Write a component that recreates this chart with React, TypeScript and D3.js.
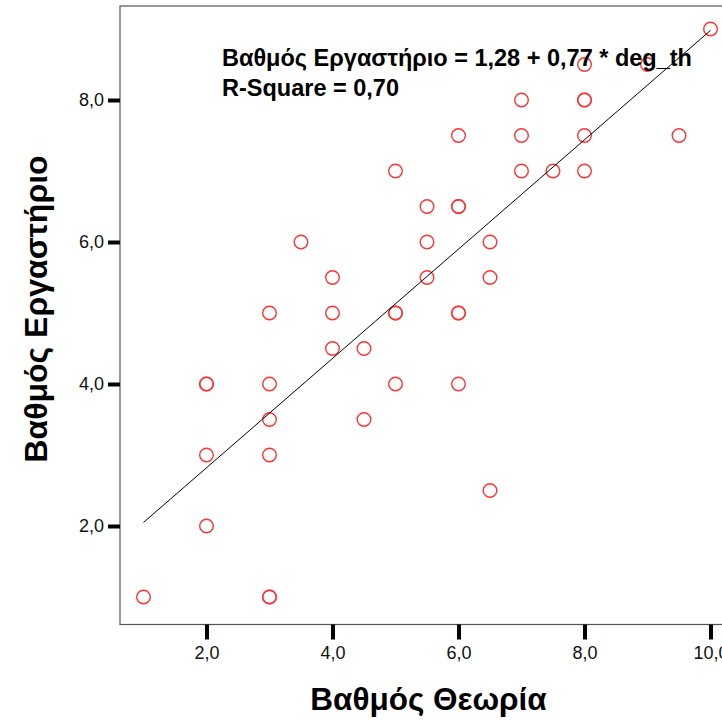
import React, { useRef, useEffect } from 'react';
import * as d3 from 'd3';

// Scatter points: theory grade (x) and lab grade (y); repeats are drawn on top of each other
const theoryScores = [1, 2, 2, 2, 2, 3, 3, 3, 3, 3, 3, 3.5, 4, 4, 4, 4.5, 4.5, 5, 5, 5, 5, 5.5, 5.5, 5.5, 6, 6, 6, 6, 6, 6, 6.5, 6.5, 6.5, 7, 7, 7, 7.5, 8, 8, 8, 8, 8, 9, 9.5, 10];
const labScores = [1, 2, 3, 4, 4, 1, 1, 3, 3.5, 4, 5, 6, 4.5, 5, 5.5, 3.5, 4.5, 4, 5, 5, 7, 5.5, 6, 6.5, 4, 5, 5, 6.5, 6.5, 7.5, 2.5, 5.5, 6, 7, 7.5, 8, 7, 7, 7.5, 8, 8, 8.5, 8.5, 7.5, 9];

const xTicks = [2, 4, 6, 8, 10];
const yTicks = [2, 4, 6, 8];
const fitIntercept = 1.28;
const fitSlope = 0.77;
const fitRange = [1, 10];

const W = 722;
const H = 721;
const FONT = 'Liberation Sans, Arial, sans-serif';

const ScatterFit = () => {
  const svgRef = useRef<SVGSVGElement | null>(null);

  useEffect(() => {
    if (!svgRef.current) return;
    const svg = d3.select(svgRef.current);
    svg.selectAll('*').remove();

    // plot frame in pixels
    const left = 120, top = 6, bottom = 624.5;

    const x = d3.scaleLinear().domain([2, 10]).range([206.5, 710.5]);
    const y = d3.scaleLinear().domain([2, 8]).range([526, 100]);
    const right = x(10.45);
    const fmt = (d: d3.NumberValue) => d3.format('.1f')(d as number).replace('.', ',');

    // frame
    svg.append('rect')
      .attr('x', left)
      .attr('y', top)
      .attr('width', right - left)
      .attr('height', bottom - top)
      .attr('fill', 'none')
      .attr('stroke', '#555')
      .attr('stroke-width', 1.2);

    // x axis ticks
    const xAxis = d3.axisBottom(x).tickValues(xTicks).tickSize(15).tickPadding(7).tickFormat(fmt);
    const gx = svg.append('g').attr('transform', `translate(0, ${bottom})`).call(xAxis);
    gx.select('.domain').remove();
    gx.selectAll('.tick line').attr('stroke', '#000').attr('stroke-width', 4);
    gx.selectAll('.tick text')
      .attr('fill', '#111')
      .attr('font-family', FONT)
      .attr('font-size', 18);

    // y axis ticks
    const yAxis = d3.axisLeft(y).tickValues(yTicks).tickSize(12).tickPadding(4).tickFormat(fmt);
    const gy = svg.append('g').attr('transform', `translate(${left}, 0)`).call(yAxis);
    gy.select('.domain').remove();
    gy.selectAll('.tick line').attr('stroke', '#000').attr('stroke-width', 4);
    gy.selectAll('.tick text')
      .attr('fill', '#111')
      .attr('font-family', FONT)
      .attr('font-size', 18);

    // points
    const points = theoryScores.map((t, i) => ({ t, l: labScores[i] }));
    svg.append('g')
      .selectAll('circle')
      .data(points)
      .enter()
      .append('circle')
      .attr('cx', d => x(d.t))
      .attr('cy', d => y(d.l))
      .attr('r', 6.8)
      .attr('fill', 'none')
      .attr('stroke', '#ff3333')
      .attr('stroke-width', 1.4);

    // regression line
    const line = d3.line<number>()
      .x(v => x(v))
      .y(v => y(fitIntercept + fitSlope * v));
    svg.append('path')
      .attr('d', line(fitRange))
      .attr('fill', 'none')
      .attr('stroke', '#000')
      .attr('stroke-width', 1);

    // annotation
    const note = svg.append('g')
      .attr('font-family', FONT)
      .attr('font-weight', 'bold')
      .attr('font-size', 23.5)
      .attr('fill', '#000');
    note.append('text').attr('x', 222).attr('y', 66).text('Βαθμός Εργαστήριο = 1,28 + 0,77 * deg_th');
    note.append('text').attr('x', 222).attr('y', 96).text('R-Square = 0,70');

    // axis titles
    svg.append('text')
      .attr('x', 428.5)
      .attr('y', 710)
      .attr('text-anchor', 'middle')
      .attr('font-family', FONT)
      .attr('font-weight', 'bold')
      .attr('font-size', 31.5)
      .text('Βαθμός Θεωρία');

    svg.append('text')
      .attr('transform', 'translate(47, 309) rotate(-90)')
      .attr('text-anchor', 'middle')
      .attr('font-family', FONT)
      .attr('font-weight', 'bold')
      .attr('font-size', 32)
      .text('Βαθμός Εργαστήριο');
  }, []);

  return (
    <svg
      ref={svgRef}
      width={W}
      height={H}
      style={{ position: 'fixed', left: 0, top: 0, background: '#fff' }}
    />
  );
};

export default function App() {
  return <ScatterFit />;
}
